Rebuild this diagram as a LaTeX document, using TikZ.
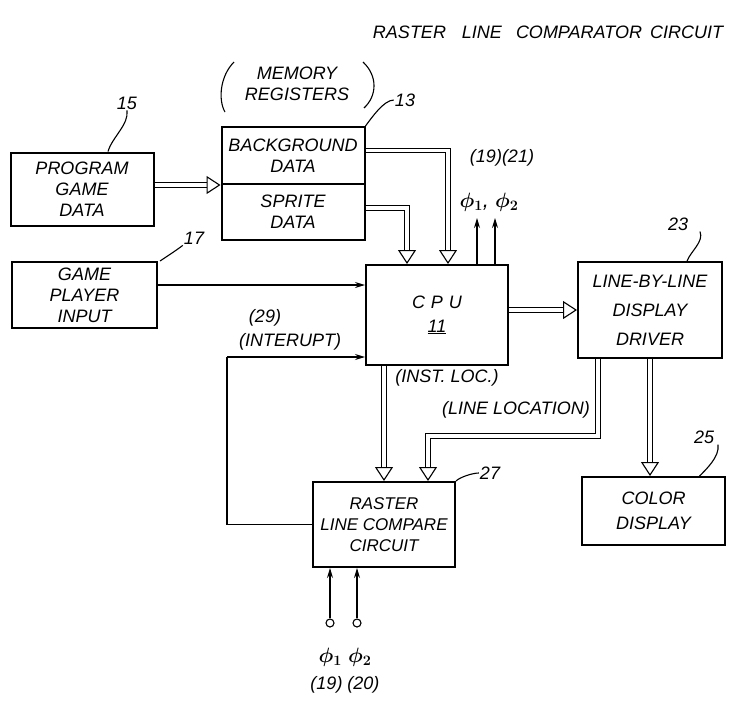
\documentclass[tikz,border=0pt]{standalone}
\usepackage{fontspec}
\setmainfont{Liberation Sans}
\usetikzlibrary{arrows.meta}

\begin{document}
\begin{tikzpicture}[x=1pt, y=-1pt,
	every node/.style={font=\itshape\fontsize{18}{21}\selectfont, align=center, inner sep=1pt},
	block/.style={draw, line width=2pt, minimum width=143pt, inner sep=2pt},
	bus/.style={draw, double, double distance=3.6pt, line width=1.1pt,
		-{Triangle[open, length=14pt, width=18pt, line width=1.1pt]}},
	wire/.style={draw, line width=1.1pt, -{Stealth[length=10pt, width=6pt]}},
	lead/.style={draw, line width=1.1pt},
	phase/.style={font=\itshape\fontsize{22}{24}\selectfont\boldmath},
	jack/.style={draw, circle, line width=1.1pt, minimum size=8pt, inner sep=0pt}]
	\useasboundingbox (0,0) rectangle (746,702);
	% blocks
	\node[block, minimum height=73pt] (prog) at (82,189) {PROGRAM\\GAME\\DATA};
	\node[block, minimum height=57pt] (bg) at (293,155.5) {BACKGROUND\\DATA};
	\node[block, minimum height=56pt] (sprite) at (293,212) {SPRITE\\DATA};
	\node[block, minimum height=66pt, minimum width=145pt] (input) at (84.5,295) {GAME\\PLAYER\\INPUT};
	\node[block, minimum height=100pt, minimum width=142pt] (cpu) at (437,315) {C\,\,P\,\,U\\[3pt]\underline{11}};
	\node[block, minimum height=96pt, minimum width=144pt] (driver) at (650,310)
		{LINE-BY-LINE\\[8pt]DISPLAY\\[8pt]DRIVER};
	\node[block, minimum height=85pt, minimum width=142pt, font=\itshape\fontsize{17}{21}\selectfont] (raster) at (384,524.5)
		{RASTER\\LINE COMPARE\\CIRCUIT};
	\node[block, minimum height=68pt] (color) at (653.5,511) {COLOR\\[4pt]DISPLAY};
	% labels
	\node[font=\itshape\fontsize{18}{20}\selectfont] (title) at (548,32)
		{RASTER\hspace{16pt}LINE\hspace{14pt}COMPARATOR\hspace{8pt}CIRCUIT};
	\node (memlbl) at (297,84) {MEMORY\\REGISTERS};
	\node (n15) at (127,103) {15};
	\node (n13) at (405,100) {13};
	\node (n17) at (194,238) {17};
	\node (n23) at (678,224) {23};
	\node (n25) at (704,437) {25};
	\node (n27) at (490,473) {27};
	\node (cpuclk) at (502,158) {(19)(21)};
	\node[phase] (cpuphi) at (489,202) {$\phi_1$, $\phi_2$};
	\node (n29) at (265,318) {(29)};
	\node (intlbl) at (290,342) {(INTERUPT)};
	\node (instlbl) at (447,378) {(INST. LOC.)};
	\node (linelbl) at (516,410) {(LINE LOCATION)};
	\node[phase] (rphi) at (345,657) {$\phi_1$ $\phi_2$};
	\node (rclk) at (345,685) {(19) (20)};
	% brackets round the memory label
	\draw[lead] (234,62) .. controls (220,76) and (218,100) .. (225,112);
	\draw[lead] (363,62) .. controls (378,76) and (377,96) .. (364,108);
	% reference leaders
	\draw[lead] (n15.south) .. controls +(2,14) and +(4,-14) .. ([xshift=26pt]prog.north);
	\draw[lead] (n13.west) .. controls +(-10,0) and +(6,-8) .. (bg.north east);
	\draw[lead] (n17.south west) .. controls +(-8,6) and +(6,-4) .. ([xshift=2pt]input.north east);
	\draw[lead] ([xshift=22pt]n23.south) .. controls +(4,10) and +(4,-10) .. ([xshift=37pt]driver.north);
	\draw[lead] ([xshift=14pt]n25.south) .. controls +(2,12) and +(6,-6) .. ([xshift=46pt]color.north);
	\draw[lead] (n27.west) .. controls +(-6,0) and +(4,-4) .. (raster.north east);
	% buses
	\draw[bus] (prog.east |- bg.south west) -- (bg.south west);
	\draw[bus] ([yshift=5pt]bg.east) -| ([xshift=11pt]cpu.north);
	\draw[bus] ([yshift=4pt]sprite.east) -| ([xshift=-30pt]cpu.north);
	\draw[bus] (cpu.east |- driver.west) -- (driver.west);
	\draw[bus] (driver.south) -- (driver.south |- color.north);
	\draw[bus] (cpu.south -| raster.north) -- (raster.north);
	\draw[bus] ([xshift=-52pt]driver.south) -- ++(0,77) -| ([xshift=44pt]raster.north);
	% wires
	\coordinate (phiA) at (477,218);
	\coordinate (phiB) at (495,218);
	\draw[wire] (cpu.north -| phiA) -- (phiA);
	\draw[wire] (cpu.north -| phiB) -- (phiB);
	\draw[wire] ([yshift=10pt]input.east) -- ([yshift=10pt]input.east -| cpu.west);
	\coordinate (intcorner) at (227,357);
	\draw[line width=1.1pt] (raster.west) -| (intcorner);
	\draw[wire] (intcorner) -- (intcorner -| cpu.west);
	\node[jack] (jackA) at (330,623) {};
	\node[jack] (jackB) at (357,623) {};
	\draw[wire] (jackA) -- (jackA |- raster.south);
	\draw[wire] (jackB) -- (jackB |- raster.south);
\end{tikzpicture}
\end{document}
